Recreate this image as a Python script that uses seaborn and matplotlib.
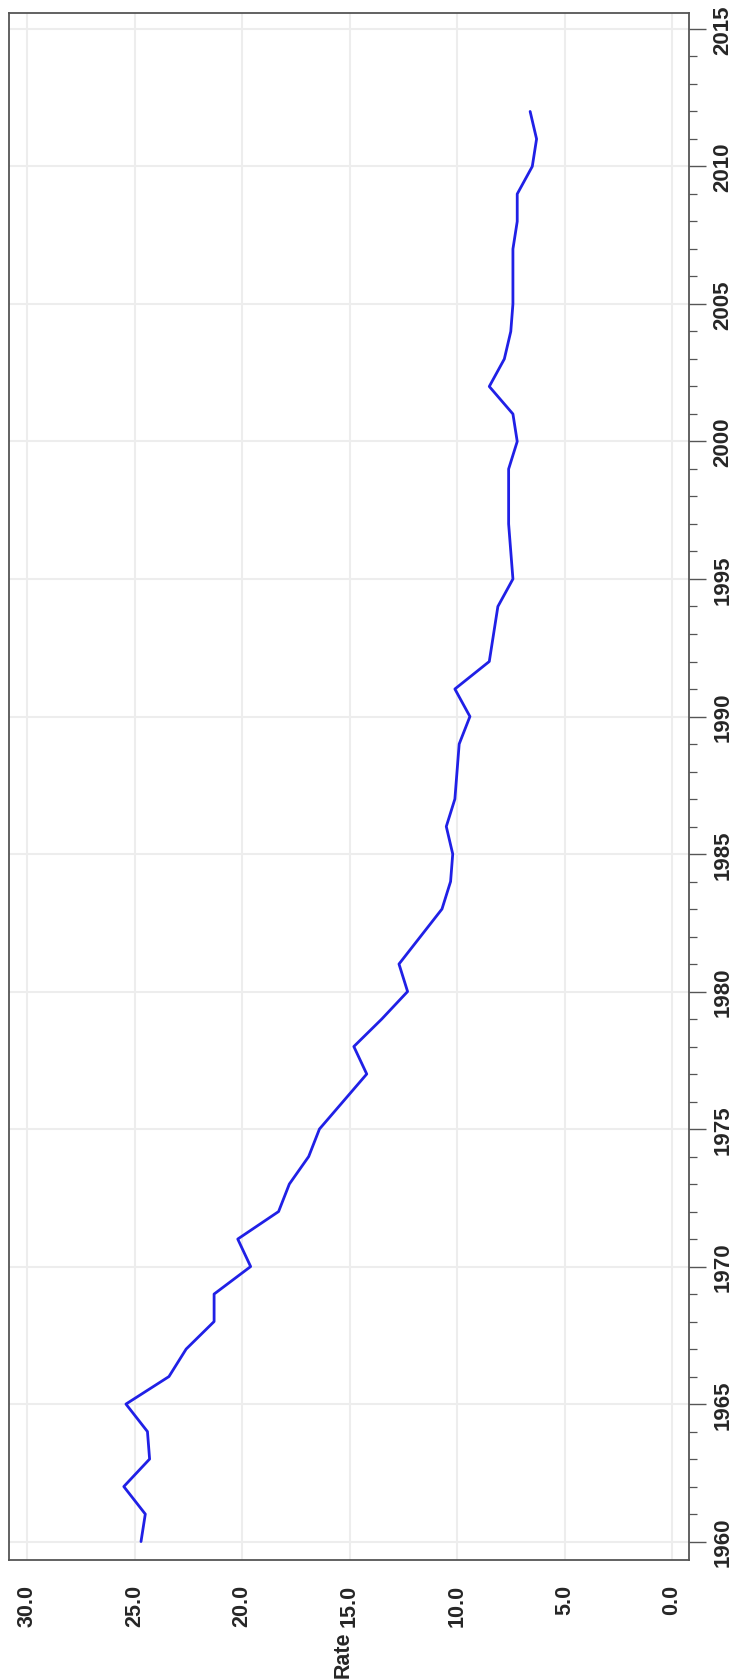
import matplotlib
matplotlib.use("Agg")
import matplotlib.pyplot as plt
import seaborn as sns
import pandas as pd
from matplotlib.ticker import MultipleLocator, FormatStrFormatter

years = list(range(1960, 2013))
rate = [24.7, 24.5, 25.5, 24.3, 24.4, 25.4, 23.4, 22.6, 21.3, 21.3,
        19.6, 20.2, 18.3, 17.8, 16.9, 16.4, 15.3, 14.2, 14.8, 13.5,
        12.3, 12.7, 11.7, 10.7, 10.3, 10.2, 10.5, 10.1, 10.0, 9.9,
        9.4, 10.1, 8.5, 8.3, 8.1, 7.4, 7.5, 7.6, 7.6, 7.6,
        7.2, 7.4, 8.5, 7.8, 7.5, 7.4, 7.4, 7.4, 7.2, 7.2,
        6.5, 6.3, 6.6]
rate_ticks = [0, 5, 10, 15, 20, 25, 30]
year_ticks = list(range(1960, 2016, 5))

df = pd.DataFrame({"Year": years, "Rate": rate})

sns.set_style("white")
plt.rcParams["font.family"] = ["Liberation Sans", "DejaVu Sans"]

W, H = 736, 1681
fig = plt.figure(figsize=(W / 100, H / 100), dpi=100)
ax = fig.add_axes([9 / W, 1 - 1561 / H, (689 - 9) / W, (1561 - 14) / H])

sns.lineplot(data=df, x="Rate", y="Year", orient="y", sort=False,
             color="#2020e6", linewidth=2.0, ax=ax)

ax.set_xlim(30.84, -0.79)
ax.set_ylim(1959.33, 2015.58)

ax.set_xticks(rate_ticks)
ax.xaxis.set_major_formatter(FormatStrFormatter("%.1f"))
ax.set_yticks(year_ticks)
ax.yaxis.set_minor_locator(MultipleLocator(1))
ax.yaxis.tick_right()

ax.grid(True, which="major", color="#ededed", linewidth=1.5)
ax.set_axisbelow(True)

for s in ax.spines.values():
    s.set_color("#555555")
    s.set_linewidth(1.3)

ax.tick_params(axis="x", which="major", direction="out", length=11, width=1.0,
               color="#555555", pad=6, labelsize=15.5, labelrotation=90)
ax.tick_params(axis="y", which="major", direction="out", length=12, width=1.0,
               color="#555555", pad=5, labelsize=16, labelrotation=90,
               right=True, left=False)
ax.tick_params(axis="y", which="minor", direction="out", length=6, width=0.9,
               color="#555555", right=True, left=False)
for lbl in ax.get_xticklabels() + ax.get_yticklabels():
    lbl.set_fontweight("bold")
for lbl in ax.get_yticklabels():
    lbl.set_va("center")

ax.set_xlabel("")
ax.set_ylabel("")
fig.text(343 / W, 1 - 1655 / H, "Rate", fontsize=15.5, fontweight="bold",
         rotation=90, ha="center", va="center")

fig.savefig("out.png", dpi=100, facecolor="white")
